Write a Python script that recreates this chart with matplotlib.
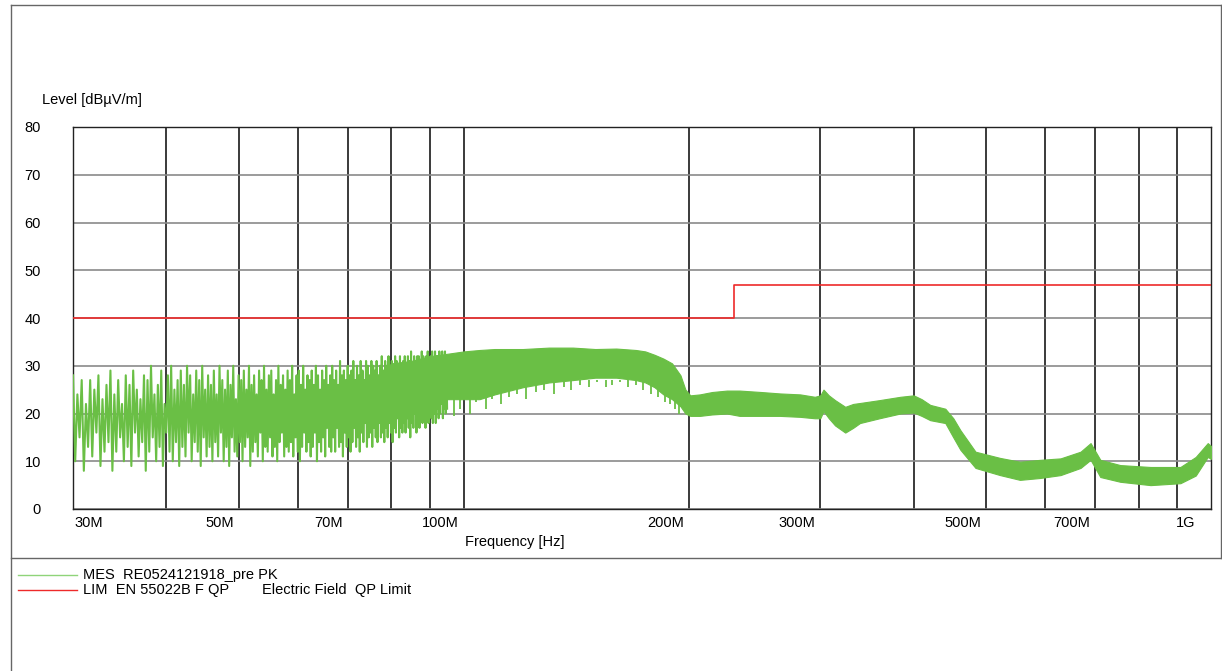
import numpy as np
import matplotlib
matplotlib.use("Agg")
from matplotlib import pyplot as plt
from matplotlib.lines import Line2D

plt.rcParams['font.family'] = ['Liberation Sans', 'DejaVu Sans']

pk_hi = [28, 24, 27, 22, 27, 25, 28, 23, 26, 29,
         24, 27, 22, 28, 26, 29, 25, 23, 28, 27,
         30, 24, 26, 29, 22, 28, 30, 25, 27, 29,
         26, 30, 28, 24, 29, 27, 30, 25, 28, 26,
         29, 24, 30, 27, 25, 29, 26, 30, 23, 28,
         27, 29, 25, 30, 26, 28, 24, 29, 27, 30,
         25, 28, 29, 24, 27, 30, 26, 28, 25, 29,
         27, 30, 24, 28, 29, 26, 30, 25, 28, 27,
         29, 26, 30, 28, 25, 29, 27, 30, 26, 28,
         30, 27, 29, 26, 31, 28, 29, 27, 30, 28,
         29, 31, 27, 30, 28, 31, 29, 27, 31, 30,
         28, 31, 30, 29, 31, 28, 30, 32, 29, 31,
         30, 32, 29, 31, 30, 32, 31, 29, 32, 30,
         31, 32, 30, 32, 31, 33, 30, 32, 31, 32,
         32, 31, 33, 32, 30, 32, 33, 31, 32, 33,
         31, 33, 32, 32, 33, 31, 33, 32, 33, 32]
pk_lo = [10, 15, 8, 13, 11, 16, 9, 12, 14, 8,
         12, 15, 10, 13, 9, 16, 11, 14, 8, 12,
         15, 10, 13, 9, 16, 12, 10, 14, 9, 13,
         11, 16, 10, 14, 12, 9, 15, 11, 13, 10,
         14, 11, 16, 10, 13, 9, 15, 12, 11, 14,
         10, 13, 15, 9, 12, 14, 11, 16, 10, 13,
         12, 15, 11, 13, 10, 14, 16, 11, 13, 12,
         14, 11, 15, 12, 10, 13, 16, 12, 14, 11,
         13, 16, 10, 14, 12, 15, 11, 17, 13, 12,
         15, 12, 17, 13, 14, 11, 16, 13, 15, 12,
         14, 17, 13, 15, 12, 16, 14, 18, 13, 15,
         16, 13, 17, 15, 14, 18, 15, 16, 14, 17,
         15, 18, 16, 14, 17, 16, 19, 15, 17, 16,
         18, 16, 19, 17, 15, 18, 17, 20, 16, 18,
         17, 19, 18, 20, 17, 19, 18, 21, 19, 18,
         20, 18, 21, 19, 20, 22, 19, 21, 20, 21]

# dense part of the trace: envelope (MHz, top, bottom)
band_f = [78, 80, 85, 90, 95, 100, 105, 110, 120, 130, 140, 150, 160, 170, 175,
          180, 185, 190, 195, 198, 201, 207, 215, 225, 234, 250, 265, 282, 295,
          300, 303, 308, 314, 324, 332, 339, 360, 384, 400, 410, 421, 441, 452,
          462, 484, 522, 555, 591, 629, 669, 690, 711, 756, 830, 910, 954, 990, 1000]
band_top = [29, 30.5, 31, 32, 32.5, 33, 33.3, 33.5, 33.5, 33.8, 33.8, 33.5, 33.6, 33.3, 33,
            32.3, 31.5, 30.5, 28, 25, 23.8, 24, 24.5, 24.8, 24.8, 24.5, 24.2, 24, 23.5,
            23.8, 25, 23.8, 22.8, 21.4, 22, 22.2, 22.8, 23.5, 23.8, 23, 21.8, 21, 19,
            16.5, 12, 10.7, 9.9, 10.3, 10.6, 12, 13.8, 10.3, 9.2, 8.8, 8.8, 10.9, 13.8, 13.2]
band_bot = [26, 25, 24, 23.5, 23, 23, 23, 24, 25.5, 26.5, 27, 27.5, 27.5, 27, 26.5,
            25.5, 24, 23, 21.5, 20, 19.5, 19.5, 19.8, 20, 19.5, 19.5, 19.5, 19.3, 19,
            19, 20.5, 19, 17.5, 16, 17, 18, 19, 20, 20.2, 19.5, 18.6, 18, 15,
            12.4, 8.6, 7.1, 6.1, 6.5, 7.1, 8.6, 10.3, 6.7, 5.7, 5, 5.4, 7, 10.9, 10.5]

# single downward spikes below the dense band
spike_f = [97, 99, 102, 104, 107, 109, 112, 115, 118, 121, 125, 128, 132, 136, 139,
           143, 147, 151, 155, 158, 162, 166, 170, 174, 178, 182, 186, 189, 192, 194]
spike_v = [19.5, 21, 20, 22.5, 21, 23, 22, 23.5, 24, 23, 24.5, 25, 24, 25.5, 25,
           26, 25.5, 26.5, 25.5, 26, 26.5, 25.5, 26, 25, 24, 23.5, 22.5, 22, 21, 20]

# limit line EN 55022B QP
lim_f = [30, 230, 230, 1000]
lim_v = [40, 40, 47, 47]

xtick_f = [30, 50, 70, 100, 200, 300, 500, 700, 1000]
xtick_lab = ['30M', '50M', '70M', '100M', '200M', '300M', '500M', '700M', '1G']
grid_f = [40, 50, 60, 70, 80, 90, 100, 200, 300, 400, 500, 600, 700, 800, 900]

green = '#6abf45'
red = '#ee2a2a'

fig = plt.figure(figsize=(12.22, 6.71), dpi=100)
ax = fig.add_axes([73 / 1222, 162 / 671, 1138 / 1222, 382 / 671])
ax.set_xscale('log')
ax.set_xlim(30e6, 1e9)
ax.set_ylim(0, 80)

# interleave peaks and dips on the sweep grid
zz = np.empty(2 * len(pk_hi))
zz[0::2] = pk_hi
zz[1::2] = pk_lo
zz_f = np.linspace(30e6, 95e6, len(zz))

bf = np.array(band_f) * 1e6
ax.fill_between(bf, band_bot, band_top, color=green, lw=0.8, edgecolor=green, zorder=3)
ax.plot(zz_f, zz, color=green, lw=1.5, zorder=3)
ax.vlines(np.array(spike_f) * 1e6, spike_v, 27, color=green, lw=1.3, zorder=3)
ax.plot(np.array(lim_f) * 1e6, lim_v, color=red, lw=1.2, zorder=4)

ax.set_xticks(np.array(grid_f) * 1e6)
ax.set_xticks([], minor=True)
ax.set_yticks(range(0, 81, 10))
ax.tick_params(length=0, labelbottom=False)
ax.tick_params(axis='y', labelsize=10.5, pad=23)
ax.xaxis.grid(True, color='#3a3a3a', lw=1.4)
ax.yaxis.grid(True, color='#8a8a8a', lw=1.2)
ax.set_axisbelow(True)
for s in ax.spines.values():
    s.set_color('#222222')
    s.set_linewidth(1.0)

trans = ax.get_xaxis_transform()
for f, lab in zip(xtick_f, xtick_lab):
    if lab == '30M':
        ax.text(f * 1e6 * 1.005, -0.018, lab, transform=trans, ha='left', va='top', fontsize=10.5)
    elif lab == '1G':
        ax.text(f * 1e6 * 0.953, -0.018, lab, transform=trans, ha='right', va='top', fontsize=10.5)
    else:
        ax.text(f * 1e6 * 0.985, -0.018, lab, transform=trans, ha='right', va='top', fontsize=10.5)

fig.text(465 / 1222, 1 - 542 / 671, 'Frequency [Hz]', ha='left', va='center', fontsize=10.5)
fig.text(42 / 1222, 1 - 100 / 671, 'Level [dBµV/m]', ha='left', va='center', fontsize=10.5)

# frame and legend box
W, H = 1222, 671
def px_line(x0, y0, x1, y1, **kw):
    fig.add_artist(Line2D([x0 / W, x1 / W], [1 - y0 / H, 1 - y1 / H], **kw))

px_line(11, 5, 1221, 5, color='#666666', lw=1.0)
px_line(11, 5, 11, 671, color='#666666', lw=1.0)
px_line(1221, 5, 1221, 558, color='#666666', lw=1.0)
px_line(11, 558, 1222, 558, color='#666666', lw=1.0)

px_line(18, 575, 77, 575, color='#8fd47a', lw=1.0)
px_line(18, 590, 77, 590, color=red, lw=1.0)
fig.text(83 / W, 1 - 575 / H, 'MES  RE0524121918_pre PK', ha='left', va='center', fontsize=10.5)
fig.text(83 / W, 1 - 590 / H, 'LIM  EN 55022B F QP', ha='left', va='center', fontsize=10.5)
fig.text(262 / W, 1 - 590 / H, 'Electric Field  QP Limit', ha='left', va='center', fontsize=10.5)

fig.savefig('out.png', dpi=100)
